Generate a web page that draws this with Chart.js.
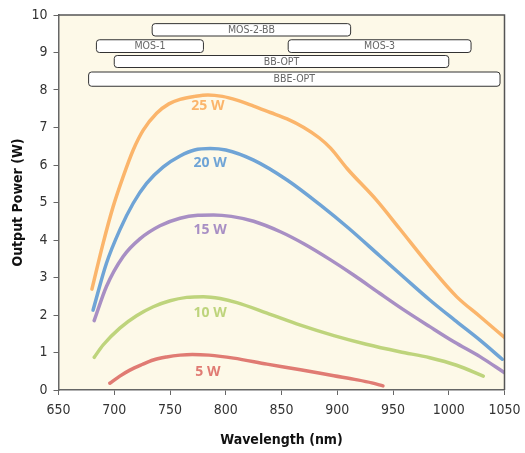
<!DOCTYPE html>
<html>
<head>
<meta charset="utf-8">
<script src="https://cdn.jsdelivr.net/npm/chart.js@4.4.1/dist/chart.umd.min.js"></script>
<style>
  html, body { margin: 0; padding: 0; background: #fff; }
  #wrap { width: 525px; height: 453px; }
</style>
</head>
<body>
<div id="wrap"><canvas id="chart"></canvas></div>
<script>
// curves: [wavelength nm, output power W]
const curve25 = [[680,2.69],[690,3.91],[699,4.89],[708,5.69],[717,6.40],[726,6.93],[738,7.38],[749,7.63],[759,7.75],[772,7.83],[784,7.87],[797,7.83],[810,7.73],[825,7.57],[840,7.40],[855,7.23],[870,7.00],[884,6.72],[894,6.45],[909,5.90],[935,5.07],[956,4.30],[983,3.30],[1007,2.49],[1028,1.96],[1050,1.40]]
const curve20 = [[681,2.13],[693,3.38],[705,4.27],[717,4.98],[729,5.51],[744,5.95],[759,6.24],[772,6.40],[786,6.44],[800,6.40],[825,6.13],[855,5.60],[885,4.93],[910,4.32],[938,3.58],[960,3.00],[983,2.40],[1005,1.87],[1028,1.33],[1048,0.82]]
const curve15 = [[682,1.85],[693,2.76],[708,3.56],[723,4.03],[741,4.38],[759,4.58],[775,4.66],[789,4.67],[805,4.63],[825,4.50],[849,4.22],[870,3.90],[894,3.47],[915,3.06],[938,2.58],[960,2.13],[983,1.69],[1005,1.28],[1028,0.89],[1050,0.46]]
const curve10 = [[682,0.87],[690,1.20],[705,1.65],[720,1.98],[735,2.22],[750,2.38],[765,2.47],[780,2.49],[795,2.44],[810,2.33],[837,2.05],[867,1.73],[897,1.45],[926,1.22],[956,1.02],[983,0.86],[1007,0.66],[1031,0.37]]
const curve5 = [[696,0.18],[705,0.37],[714,0.53],[725,0.68],[735,0.80],[747,0.88],[759,0.93],[770,0.95],[785,0.93],[807,0.85],[837,0.69],[867,0.54],[897,0.38],[918,0.27],[931,0.19],[941,0.11]]

const seriesNames = ['25 W','20 W','15 W','10 W','5 W']
const seriesColors = ['#fbb56b','#6fa4d6','#a88fc4','#bed47c','#e07b73']
// label anchor for each curve [nm, W]
const labelSpots = [[784,7.57],[786,6.05],[786,4.27],[786,2.05],[784,0.48]]

// instrument ranges at the top
const rangeNames = ['MOS-2-BB','MOS-1','MOS-3','BB-OPT','BBE-OPT']
const rangeStart = [734,684,856,700,677]
const rangeEnd = [912,780,1020,1000,1046]
const rangeLow = [9.44,9.0,9.0,8.6,8.1]
const rangeHigh = [9.77,9.34,9.34,8.92,8.48]

const xTicks = [650,700,750,800,850,900,950,1000,1050]

const tickFont = "'Liberation Sans Narrow', 'DejaVu Sans Condensed', sans-serif"

const frame = {
    id: 'frame',
    beforeDraw(chart){
        const {ctx, chartArea: a} = chart
        ctx.save()
        ctx.fillStyle = '#fdf9e8'
        ctx.fillRect(a.left, a.top, a.right - a.left, a.bottom - a.top)
        ctx.restore()
    },
    afterDraw(chart){
        const {ctx, chartArea: a} = chart
        ctx.save()
        ctx.strokeStyle = '#555'
        ctx.lineWidth = 1.5
        ctx.beginPath()
        ctx.moveTo(a.left, a.top)
        ctx.lineTo(a.right, a.top)
        ctx.lineTo(a.right, a.bottom)
        ctx.stroke()
        ctx.restore()
    }
}

const rangeBars = {
    id: 'rangeBars',
    afterDatasetsDraw(chart){
        const ctx = chart.ctx
        const x = chart.scales.x, y = chart.scales.y
        ctx.save()
        rangeNames.forEach((name, i)=>{
            const x0 = x.getPixelForValue(rangeStart[i])
            const x1 = x.getPixelForValue(rangeEnd[i])
            const y0 = y.getPixelForValue(rangeHigh[i])
            const y1 = y.getPixelForValue(rangeLow[i])
            ctx.beginPath()
            ctx.roundRect(x0, y0, x1 - x0, y1 - y0, 3)
            ctx.fillStyle = '#fff'
            ctx.fill()
            ctx.strokeStyle = '#333'
            ctx.lineWidth = 1
            ctx.stroke()
            ctx.fillStyle = '#666'
            ctx.font = "10.5px " + tickFont
            ctx.textAlign = 'center'
            ctx.textBaseline = 'middle'
            ctx.fillText(name, (x0 + x1) / 2, (y0 + y1) / 2 + 0.5)
        })
        // curve labels
        ctx.font = "bold 14px 'Open Sans', sans-serif"
        seriesNames.forEach((name, i)=>{
            ctx.fillStyle = seriesColors[i]
            ctx.fillText(name, x.getPixelForValue(labelSpots[i][0]), y.getPixelForValue(labelSpots[i][1]))
        })
        ctx.restore()
    }
}

const curves = [curve25, curve20, curve15, curve10, curve5]

const config = {
    type: 'line',
    data: {
        datasets: curves.map((c, i)=>({
            label: seriesNames[i],
            data: c.map(p=>({x: p[0], y: p[1]})),
            borderColor: seriesColors[i],
            borderWidth: 3.5,
            pointRadius: 0,
            cubicInterpolationMode: 'monotone',
            borderCapStyle: 'round',
            fill: false
        }))
    },
    options: {
        responsive: true,
        maintainAspectRatio: false,
        animation: false,
        layout: { padding: { top: 15, right: 20.5, left: 0, bottom: 0 } },
        plugins: {
            legend: { display: false },
            tooltip: { enabled: false }
        },
        scales: {
            x: {
                type: 'linear',
                min: 650,
                max: 1050,
                afterBuildTicks(scale){ scale.ticks = xTicks.map(v=>({value: v})) },
                afterFit(scale){
                    scale.height = 63
                    // let the layout padding alone decide the right edge
                    scale.paddingRight = 0
                    scale.paddingLeft = 0
                },
                grid: { drawOnChartArea: false, tickLength: 5, color: '#666' },
                border: { color: '#666', width: 1.5 },
                ticks: {
                    color: '#333',
                    font: { family: tickFont, size: 14 },
                    padding: 7,
                    maxRotation: 0,
                    callback: v => String(v)
                },
                title: {
                    display: true,
                    text: 'Wavelength (nm)',
                    color: '#111',
                    font: { family: tickFont, size: 14, weight: 'bold' },
                    padding: { top: 10 }
                }
            },
            y: {
                min: 0,
                max: 10,
                afterFit(scale){ scale.width = 58.5 },
                grid: { drawOnChartArea: false, tickLength: 5, color: '#666' },
                border: { color: '#666', width: 1.5 },
                ticks: { stepSize: 1, color: '#333', font: { family: tickFont, size: 14 }, padding: 6 },
                title: {
                    display: true,
                    text: 'Output Power (W)',
                    color: '#111',
                    font: { family: tickFont, size: 14, weight: 'bold' },
                    padding: { top: 10, bottom: 4 }
                }
            }
        }
    },
    plugins: [frame, rangeBars]
}

new Chart(document.getElementById('chart'), config)
</script>
</body>
</html>
